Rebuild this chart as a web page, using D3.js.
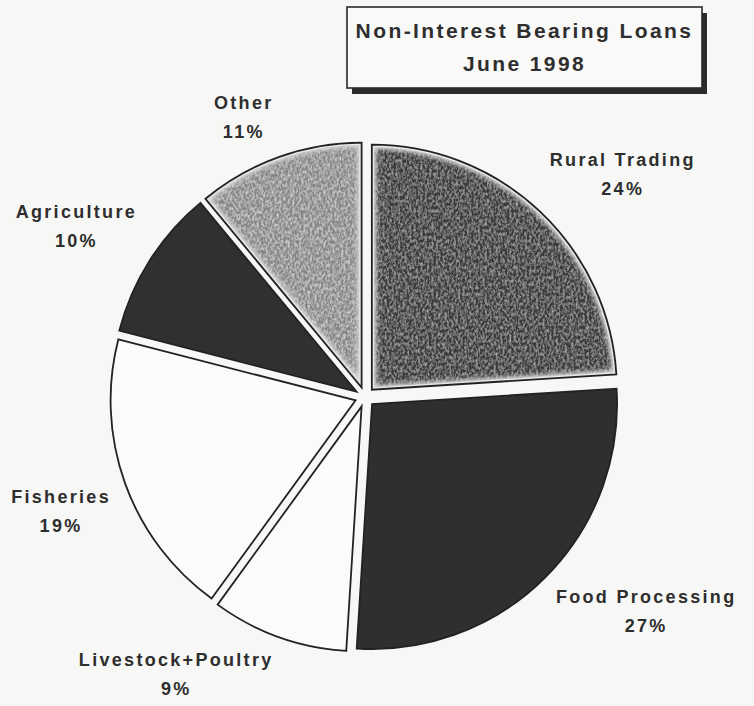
<!DOCTYPE html>
<html>
<head>
<meta charset="utf-8">
<script src="https://cdn.jsdelivr.net/npm/d3@7"></script>
<style>
  html, body { margin: 0; padding: 0; background: #f7f7f5; }
  svg { display: block; }
  text { font-family: "Liberation Sans", Arial, sans-serif; font-weight: bold; fill: #2e2e2e; }
</style>
</head>
<body>
<script>
// Loan portfolio by sector, in percent, clockwise from 12 o'clock
const categories = ["Rural Trading", "Food Processing", "Livestock+Poultry", "Fisheries", "Agriculture", "Other"];
const shares = [24, 27, 9, 19, 10, 11];
const titleLines = ["Non-Interest Bearing Loans", "June 1998"];

// Slice appearance, in the same order as the categories
const sliceFill = ["#3b3b3b", "#2f2f2f", "#fbfbfa", "#fbfbfa", "#303030", "#858585"];
const sliceGrain = ["grainDark", null, null, null, null, "grainMid"];

const W = 754, H = 706;
const cx = 365, cy = 397, radius = 245, explode = 10;
const labelRadius = radius + explode + 15;
const lineGap = 29, capTop = 15, descent = 5;

const svg = d3.select("body").append("svg")
  .attr("width", W).attr("height", H);

svg.append("rect").attr("width", W).attr("height", H).attr("fill", "#f7f7f5");

const defs = svg.append("defs");

// Mottled halftone grain for the shaded slices
function grain(id, speck, gain, bias, seed) {
  const f = defs.append("filter").attr("id", id)
    .attr("x", "-5%").attr("y", "-5%").attr("width", "110%").attr("height", "110%");
  f.append("feTurbulence").attr("type", "fractalNoise")
    .attr("baseFrequency", "0.45 0.3").attr("numOctaves", 3).attr("seed", seed).attr("result", "noise");
  const c = d3.color(speck);
  f.append("feColorMatrix").attr("in", "noise").attr("type", "matrix")
    .attr("values", `0 0 0 0 ${c.r / 255}  0 0 0 0 ${c.g / 255}  0 0 0 0 ${c.b / 255}  ${gain} 0 0 0 ${bias}`)
    .attr("result", "speck");
  f.append("feComposite").attr("in", "speck").attr("in2", "SourceGraphic")
    .attr("operator", "in").attr("result", "speckIn");
  const m = f.append("feMerge");
  m.append("feMergeNode").attr("in", "SourceGraphic");
  m.append("feMergeNode").attr("in", "speckIn");
}
grain("grainDark", "#6e6e6e", 1.8, -0.7, 4);
grain("grainMid", "#b4b4b4", 1.8, -0.65, 9);

defs.append("filter").attr("id", "soften")
  .append("feGaussianBlur").attr("stdDeviation", 2.2);

// Title box with drop shadow
const tb = { x: 347, y: 7, w: 355, h: 81 };
svg.append("rect").attr("x", tb.x + 5).attr("y", tb.y + 6)
  .attr("width", tb.w).attr("height", tb.h).attr("fill", "#2a2a2a");
svg.append("rect").attr("x", tb.x).attr("y", tb.y)
  .attr("width", tb.w).attr("height", tb.h)
  .attr("fill", "#f9f9f8").attr("stroke", "#2a2a2a").attr("stroke-width", 1.6);
titleLines.forEach((line, k) => {
  svg.append("text")
    .attr("x", tb.x + tb.w / 2).attr("y", 38 + k * 33)
    .attr("text-anchor", "middle")
    .style("font-size", "21px").style("letter-spacing", "2.4px")
    .text(line);
});

// Pie
const data = categories.map((name, i) => ({ name, value: shares[i], i }));
const pie = d3.pie().sort(null).value(d => d.value).startAngle(0).endAngle(2 * Math.PI);
const arc = d3.arc().innerRadius(0).outerRadius(radius);
const arcs = pie(data);

const pieG = svg.append("g").attr("transform", `translate(${cx},${cy})`);

const slices = pieG.selectAll("g.slice").data(arcs).join("g")
  .attr("class", "slice")
  .attr("transform", d => {
    const a = (d.startAngle + d.endAngle) / 2;
    return `translate(${Math.sin(a) * explode},${-Math.cos(a) * explode})`;
  });

slices.each(function (d) {
  const g = d3.select(this);
  const i = d.data.i;
  const path = arc(d);
  g.append("path").attr("d", path)
    .attr("fill", sliceFill[i])
    .attr("filter", sliceGrain[i] ? `url(#${sliceGrain[i]})` : null);
  if (sliceGrain[i]) {
    // pale rim just inside the outline, fading into the shading
    const clipId = "clip" + i;
    defs.append("clipPath").attr("id", clipId)
      .append("path").attr("d", path);
    g.append("path").attr("d", path)
      .attr("fill", "none").attr("stroke", "#d8d8d6").attr("stroke-width", 9)
      .attr("clip-path", `url(#${clipId})`)
      .attr("filter", "url(#soften)");
    g.append("path").attr("d", path)
      .attr("fill", "none").attr("stroke", "#e8e8e6").attr("stroke-width", 4.5)
      .attr("clip-path", `url(#${clipId})`);
  }
  g.append("path").attr("d", path)
    .attr("fill", "none").attr("stroke", "#222").attr("stroke-width", 1.8)
    .attr("stroke-linejoin", "miter");
});

// Data labels: nearest corner of each label block sits on a ring outside the pie
const labelG = svg.append("g");
arcs.forEach(d => {
  const a = (d.startAngle + d.endAngle) / 2;
  const s = Math.sin(a), c = Math.cos(a);
  const t = labelG.append("text").attr("text-anchor", "middle")
    .style("font-size", "18px").style("letter-spacing", "2.3px");
  const l1 = t.append("tspan").text(d.data.name);
  const l2 = t.append("tspan").text(d.data.value + "%");
  const w = Math.max(l1.node().getComputedTextLength(), l2.node().getComputedTextLength());
  const h = capTop + lineGap + descent;
  const px = cx + labelRadius * s, py = cy - labelRadius * c;
  const left = s >= 0 ? px : px - w;
  const top = c <= 0 ? py : py - h;
  const x = left + w / 2, b1 = top + capTop;
  l1.attr("x", x).attr("y", b1);
  l2.attr("x", x).attr("y", b1 + lineGap);
});
</script>
</body>
</html>
